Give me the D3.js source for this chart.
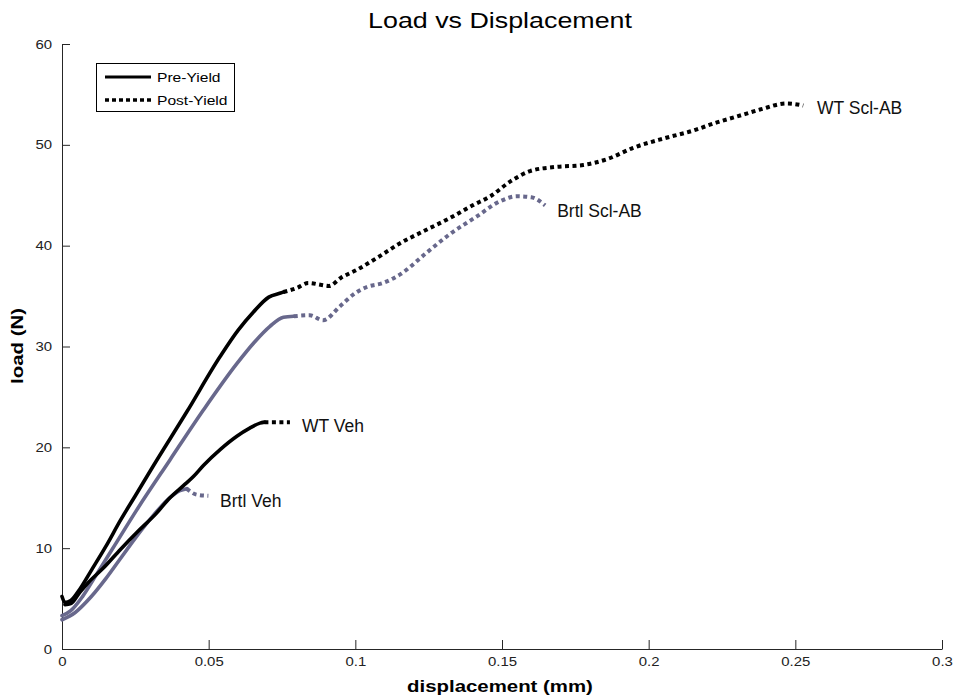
<!DOCTYPE html>
<html>
<head>
<meta charset="utf-8">
<script src="https://cdn.jsdelivr.net/npm/d3@7"></script>
<style>
  body { margin: 0; background: #fff; }
  text { font-family: "Liberation Sans", Arial, Helvetica, sans-serif; }
</style>
</head>
<body>
<svg id="chart" width="957" height="700"></svg>
<script>
// Load–displacement curves, [displacement (mm), load (N)]
const wtSclAbPre = [[0,5.2],[0.001,4.6],[0.003,4.8],[0.006,5.9],[0.01,7.8],[0.015,10.2],[0.02,12.8],[0.025,15.2],[0.031,18.1],[0.0425,23.5],[0.0539,29.0],[0.06,31.6],[0.0652,33.4],[0.0705,34.9],[0.0745,35.3],[0.0755,35.4]];
const wtSclAbPost = [[0.0755,35.4],[0.08,35.8],[0.084,36.3],[0.0885,36.1],[0.091,36.0],[0.095,36.8],[0.1005,37.6],[0.108,38.9],[0.115,40.2],[0.123,41.4],[0.132,42.7],[0.14,44.0],[0.146,44.9],[0.153,46.4],[0.1596,47.4],[0.168,47.8],[0.1777,48.0],[0.186,48.6],[0.1947,49.7],[0.206,50.7],[0.215,51.4],[0.223,52.2],[0.23,52.8],[0.238,53.5],[0.247,54.1],[0.2527,53.9]];

const brtlSclAbPre = [[0,3.3],[0.003,3.8],[0.007,5.2],[0.012,7.5],[0.018,10.3],[0.0255,13.8],[0.0368,18.75],[0.0482,23.7],[0.0596,28.3],[0.0655,30.4],[0.0709,32.0],[0.0755,32.9],[0.079,33.0]];
const brtlSclAbPost = [[0.079,33.0],[0.0845,33.1],[0.089,32.6],[0.0948,34.0],[0.1,35.3],[0.1039,35.9],[0.1095,36.3],[0.115,37.1],[0.1243,39.3],[0.132,41.1],[0.1414,42.9],[0.1493,44.4],[0.155,44.9],[0.16,44.8],[0.1647,44.0]];

const wtVehPre = [[0.001,4.4],[0.003,4.5],[0.006,5.6],[0.009,6.6],[0.014,8.0],[0.02,9.9],[0.026,11.7],[0.032,13.4],[0.0368,15.0],[0.0414,16.2],[0.0448,17.1],[0.0482,18.2],[0.054,19.8],[0.0596,21.1],[0.064,21.9],[0.0675,22.4],[0.069,22.5]];
const wtVehPost = [[0.069,22.5],[0.073,22.5],[0.0777,22.5]];

const brtlVehPre = [[0,2.9],[0.0044,3.6],[0.01,5.2],[0.015,7.0],[0.02,9.0],[0.025,11.0],[0.031,13.2],[0.036,14.8],[0.0402,15.7],[0.0425,15.9]];
const brtlVehPost = [[0.0425,15.9],[0.046,15.3],[0.0499,15.2]];

const seriesNames = ["Brtl Veh", "Brtl Scl-AB", "WT Veh", "WT Scl-AB"];
const labelAnchors = [[0.0539,14.7],[0.1688,43.45],[0.0818,22.1],[0.2574,53.7]];
const xTicks = [0, 0.05, 0.1, 0.15, 0.2, 0.25, 0.3];
const yTicks = [0, 10, 20, 30, 40, 50, 60];
const legendLabels = ["Pre-Yield", "Post-Yield"];

// ---- drawing ----
const BLACK = "#000000", GREY = "#68688c";
const series = [
  { name: seriesNames[0], pre: brtlVehPre,   post: brtlVehPost,   color: GREY,  label: labelAnchors[0] },
  { name: seriesNames[1], pre: brtlSclAbPre, post: brtlSclAbPost, color: GREY,  label: labelAnchors[1] },
  { name: seriesNames[2], pre: wtVehPre,     post: wtVehPost,     color: BLACK, label: labelAnchors[2] },
  { name: seriesNames[3], pre: wtSclAbPre,   post: wtSclAbPost,   color: BLACK, label: labelAnchors[3] }
];

const svg = d3.select("#chart");
const plot = { left: 62, right: 942, top: 44, bottom: 649 };

const x = d3.scaleLinear().domain([0, 0.3]).range([plot.left, plot.right]);
const y = d3.scaleLinear().domain([0, 60]).range([plot.bottom, plot.top]);

const line = d3.line().x(d => x(d[0])).y(d => y(d[1])).curve(d3.curveMonotoneX);

const AXIS = "#262626";
const TICK_SCALE = 1.15;

// x axis: ticks point into the plot
const gx = svg.append("g")
  .attr("transform", `translate(0,${plot.bottom})`)
  .call(d3.axisBottom(x).tickValues(xTicks).tickSizeInner(-9).tickSizeOuter(0)
        .tickPadding(8).tickFormat(d => String(d)));
gx.select(".domain").attr("stroke", AXIS);
gx.selectAll(".tick line").attr("stroke", AXIS);
gx.selectAll(".tick text")
  .attr("font-size", 13).attr("fill", "#222")
  .attr("transform", `scale(${TICK_SCALE},1)`);

// y axis
const gy = svg.append("g")
  .attr("transform", `translate(${plot.left},0)`)
  .call(d3.axisLeft(y).tickValues(yTicks).tickSizeInner(-8).tickSizeOuter(0)
        .tickPadding(10).tickFormat(d => String(d)));
gy.select(".domain").attr("stroke", AXIS);
gy.selectAll(".tick line").attr("stroke", AXIS);
gy.selectAll(".tick text")
  .attr("font-size", 13).attr("fill", "#222")
  .attr("x", -10 / TICK_SCALE)
  .attr("transform", `scale(${TICK_SCALE},1)`);
svg.selectAll(".tick text").style("font-family", "'Liberation Sans', Arial, sans-serif");

// curves: solid up to yield, dotted afterwards
const curves = svg.append("g").attr("fill", "none");
series.forEach(s => {
  curves.append("path").datum(s.pre)
    .attr("d", line)
    .attr("stroke", s.color).attr("stroke-width", 3.6)
    .attr("stroke-linejoin", "round").attr("stroke-linecap", "round");
  curves.append("path").datum(s.post)
    .attr("d", line)
    .attr("stroke", s.color).attr("stroke-width", 4)
    .attr("stroke-dasharray", "4,3.5").attr("stroke-linecap", "butt");
});

// curve labels
svg.append("g").selectAll("text").data(series).join("text")
  .attr("x", d => x(d.label[0]))
  .attr("y", d => y(d.label[1]))
  .attr("dy", "0.35em")
  .attr("font-size", 17.5)
  .attr("fill", "#111")
  .text(d => d.name);

// title and axis labels (horizontally widened lettering)
svg.append("text")
  .attr("transform", "translate(500,28) scale(1.22,1)")
  .attr("text-anchor", "middle").attr("font-size", 22).attr("fill", "#000")
  .text("Load vs Displacement");

svg.append("text")
  .attr("transform", "translate(500,692) scale(1.2,1)")
  .attr("text-anchor", "middle").attr("font-size", 17).attr("font-weight", "bold")
  .text("displacement (mm)");

svg.append("text")
  .attr("transform", "translate(23,346) rotate(-90) scale(1.2,1)")
  .attr("text-anchor", "middle").attr("font-size", 17).attr("font-weight", "bold")
  .text("load (N)");

// legend
const lg = svg.append("g");
lg.append("rect").attr("x", 96.5).attr("y", 63.5).attr("width", 138).attr("height", 48)
  .attr("fill", "#fff").attr("stroke", "#000").attr("stroke-width", 1);
const legendRows = [
  { label: legendLabels[0], dash: null },
  { label: legendLabels[1], dash: "4,3" }
];
legendRows.forEach((r, i) => {
  const yy = 77 + i * 23;
  lg.append("line").attr("x1", 105).attr("x2", 151).attr("y1", yy).attr("y2", yy)
    .attr("stroke", "#000").attr("stroke-width", r.dash ? 3.5 : 3)
    .attr("stroke-dasharray", r.dash);
  lg.append("text")
    .attr("transform", `translate(157,${yy + 4.5}) scale(1.2,1)`)
    .attr("font-size", 13).attr("fill", "#000")
    .text(r.label);
});
</script>
</body>
</html>
